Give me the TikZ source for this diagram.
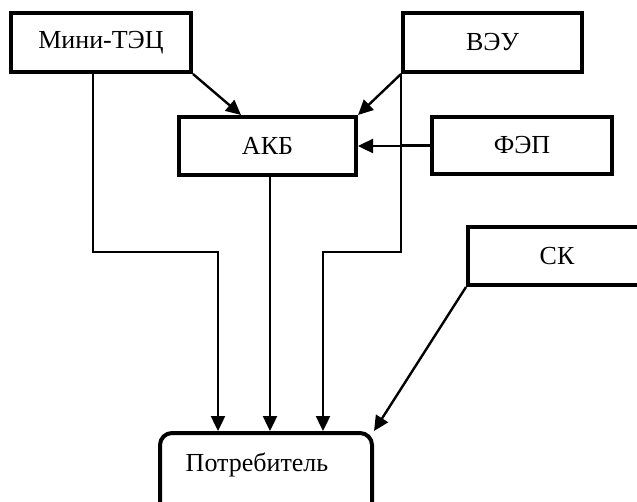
\documentclass[tikz,border=0pt]{standalone}
\usepackage{fontspec}
\setmainfont{Liberation Serif}
\usetikzlibrary{arrows.meta,calc}
\begin{document}
\begin{tikzpicture}[x=1pt,y=-1pt,
  blk/.style={draw,line width=4pt,rectangle,inner sep=0pt,font=\fontsize{26}{30}\selectfont},
  potrbox/.style={draw,line width=4pt,rectangle,rounded corners=12pt,inner sep=0pt,minimum width=212pt,minimum height=90pt},
  lbl/.style={inner sep=0pt,font=\fontsize{26}{30}\selectfont},
  conn/.style={line width=2.4pt},
  arr/.style={line width=2.4pt,-{Triangle[length=15pt,width=14pt]}}]
\useasboundingbox (0,0) rectangle (637,501);
\clip (0,0) rectangle (637,501);
\node[blk,minimum width=180pt,minimum height=59pt] (mini) at (101,42.5) {Мини-ТЭЦ};
\node[blk,minimum width=179pt,minimum height=59pt] (veu) at (492.5,42.5) {ВЭУ};
\node[blk,minimum width=177pt,minimum height=58pt] (akb) at (267.5,146) {АКБ};
\node[blk,minimum width=180pt,minimum height=57pt] (fep) at (522,145.5) {ФЭП};
\node[blk,minimum width=178pt,minimum height=58pt] (sk) at (557,256) {СК};
\node[potrbox] (potr) at (266,478) {};
\node[lbl] (potrtext) at (257,465) {Потребитель};
\coordinate (bendL) at (218,252);
\coordinate (bendR) at (323,252);
\coordinate (gap) at (400,146);
\coordinate (akbout) at (270,175);
\draw[arr] (mini.south east) -- ($(akb.north west)+(64,0)$);
\draw[arr] (veu.south west) -- (akb.north east);
\draw[conn] (fep.west) -- ($(fep.west)+(-29,0)$);
\draw[arr] (gap) -- (akb.east);
\draw[arr] ($(mini.south west)+(84,0)$) |- (bendL) -- (bendL |- potr.north);
\draw[arr] (akbout) -- (akbout |- potr.north);
\draw[arr] (veu.south west) |- (bendR) -- (bendR |- potr.north);
\draw[arr] (sk.south west) -- (potr.north east);
\end{tikzpicture}
\end{document}
